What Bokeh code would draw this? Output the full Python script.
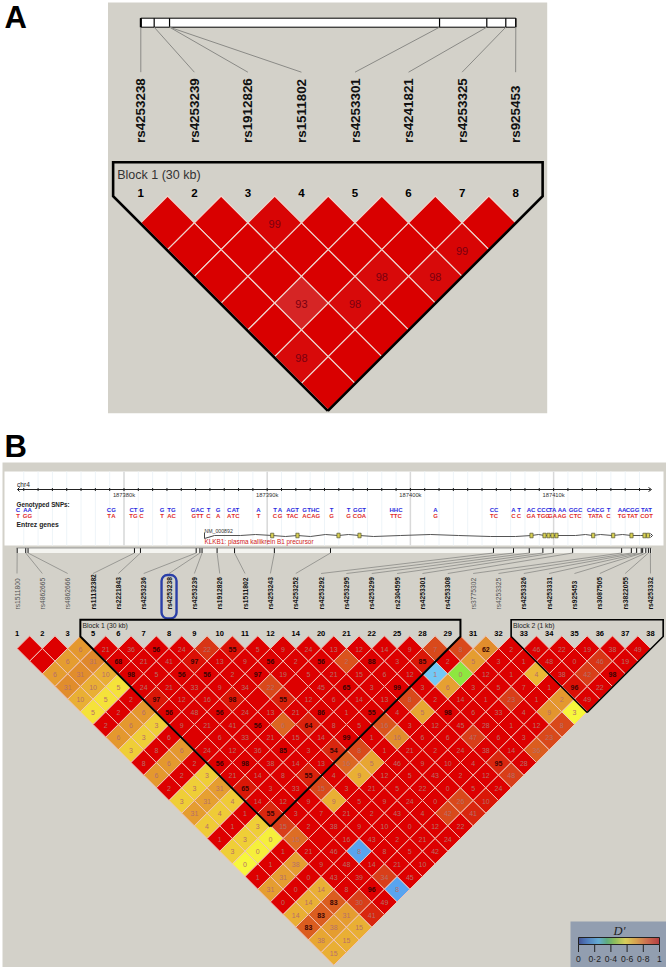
import math
import numpy as np
from bokeh.core.properties import value
from bokeh.embed import file_html
from bokeh.models import ColumnDataSource, LinearColorMapper
from bokeh.plotting import figure
from bokeh.resources import INLINE

# ---------- Panel A data ----------
a_names = ["rs4253238", "rs4253239", "rs1912826", "rs1511802", "rs4253301", "rs4241821", "rs4253325", "rs925453"]
a_kb = [0.0, 1.07, 2.3, 23.9, 27.68, 29.2, 30.0]
a_kb_map = [0.0, 1.07, 2.3, 2.3, 23.9, 27.68, 29.2, 30.0]
a_row_1 = [1, 1, 0.99, 1, 1, 1, 1]
a_row_2 = [1, 1, 1, 1, 1, 0.99]
a_row_3 = [1, 1, 1, 0.98, 0.98]
a_row_4 = [1, 0.93, 0.98, 1]
a_row_5 = [1, 1, 1]
a_row_6 = [0.98, 1]
a_row_7 = [1]

# ---------- Panel B data ----------
b_names = ["rs1511800", "rs4862665", "rs4862666", "rs11132382", "rs2221843", "rs4253236", "rs4253238",
           "rs4253239", "rs1912826", "rs1511802", "rs4253243", "rs4253252", "rs4253292", "rs4253295",
           "rs4253299", "rs2304595", "rs4253301", "rs4253308", "rs3775302", "rs4253325", "rs4253326",
           "rs4253331", "rs925453", "rs3087505", "rs3822055", "rs4253332"]
b_faint = ["rs1511800", "rs4862665", "rs4862666", "rs3775302", "rs4253325"]
b_numbers = ["1", "2", "3", "5", "6", "7", "8", "9", "10", "11", "12", "14", "20", "21", "22", "25", "28",
             "29", "31", "32", "33", "34", "35", "36", "37", "38"]
b_kb = [-7.46, -6.86, -6.7, 0.73, 1.15, 5.04, 5.3, 5.45, 6.5, 7.72, 10.5, 14.42, 25.8, 27.2, 28.3, 29.25,
        29.98, 31.33, 34.75, 35.43, 35.8, 36.12, 36.22, 36.44, 36.62, 36.76]

row_01 = ["", "", "6", "21", "36", "56", "24", "22", "55", "5", "9", "24", "13", "12", "14", "9", "7", "8", "62", "2", "46", "22", "19", "38", "49"]
row_02 = ["", "6", "31", "68", "21", "41", "97", "13", "9", "56", "2", "56", "2", "88", "3", "85", "2", "5", "3", "1", "48", "0", "46", "19"]
row_03 = ["6", "31", "10", "98", "5", "56", "56", "2", "97", "19", "5", "21", "15", "6", "12", "1", "0", "12", "1", "4", "38", "42", "98"]
row_04 = ["31", "10", "5", "24", "21", "33", "9", "34", "22", "", "45", "65", "3", "99", "3", "6", "3", "5", "7", "1", "96", "22"]
row_05 = ["10", "5", "2", "97", "12", "16", "98", "", "55", "12", "6", "14", "13", "8", "2", "14", "1", "23", "1", "2", "49"]
row_06 = ["5", "2", "6", "56", "48", "56", "24", "13", "21", "86", "1", "55", "4", "5", "98", "6", "33", "4", "9", "3"]
row_07 = ["2", "6", "3", "9", "21", "41", "56", "6", "64", "8", "5", "16", "3", "12", "45", "28", "1", "12", "8"]
row_08 = ["6", "3", "6", "", "6", "33", "21", "15", "14", "99", "1", "16", "6", "6", "47", "6", "3", "23"]
row_09 = ["3", "8", "6", "24", "12", "36", "85", "3", "54", "8", "1", "21", "2", "24", "38", "14", "36"]
row_10 = ["8", "6", "2", "56", "98", "38", "14", "13", "16", "5", "46", "9", "10", "4", "95", "28"]
row_11 = ["6", "2", "3", "21", "14", "8", "55", "4", "9", "12", "5", "43", "2", "12", "48"]
row_12 = ["2", "3", "31", "65", "3", "33", "15", "3", "21", "5", "22", "0", "5", "24"]
row_13 = ["3", "31", "4", "14", "12", "9", "9", "5", "9", "24", "0", "26", "10"]
row_14 = ["31", "4", "1", "55", "3", "7", "21", "2", "43", "4", "42", "41"]
row_15 = ["4", "1", "3", "15", "2", "38", "9", "10", "0", "12", "22"]
row_16 = ["1", "3", "0", "15", "", "16", "43", "2", "21", "24"]
row_17 = ["3", "0", "1", "21", "46", "8", "8", "5", "42"]
row_18 = ["0", "1", "38", "9", "48", "14", "21", "10"]
row_19 = ["1", "31", "0", "43", "39", "34", "45"]
row_20 = ["31", "0", "14", "8", "96", "8"]
row_21 = ["0", "14", "83", "30", "49"]
row_22 = ["14", "83", "31", "41"]
row_23 = ["83", "38", "15"]
row_24 = ["38", "15"]
row_25 = ["15"]

# D' of the cells that are not fully red: {position in row: D'}
dp_01 = {2: .77, 7: .93, 8: .98, 16: .9, 17: .9, 18: .8}
dp_02 = {1: .76, 2: .81, 6: .98, 12: .88, 15: .97, 17: .76, 22: .93}
dp_03 = {0: .76, 1: .8, 2: .72, 15: .2, 16: .42, 19: .7, 21: .92}
dp_04 = {0: .8, 1: .72, 2: .6, 8: .9, 15: .75, 20: .98}
dp_05 = {0: .72, 1: .6, 3: .97, 6: .97, 8: .96, 13: .9, 17: .92, 19: .77}
dp_06 = {0: .6, 2: .77, 13: .74, 18: .78, 19: .55}
dp_07 = {1: .77, 2: .65, 7: .85, 8: .96, 11: .88, 18: .9}
dp_08 = {0: .77, 1: .65, 11: .8, 14: .92, 17: .9}
dp_09 = {0: .65, 2: .77, 8: .95, 9: .9, 16: .86}
dp_10 = {1: .77, 8: .85, 9: .74, 14: .95}
dp_11 = {0: .77, 2: .65, 6: .96, 8: .72, 14: .92}
dp_12 = {1: .65, 2: .76, 3: .97, 6: .9}
dp_13 = {0: .65, 1: .75, 2: .66, 6: .72, 11: .9, 12: .97}
dp_14 = {0: .76, 1: .66, 3: .95, 10: .9, 11: .95}
dp_15 = {0: .66, 2: .65, 3: .92}
dp_16 = {1: .65, 2: .57, 3: .84}
dp_17 = {0: .65, 1: .57, 5: .13}
dp_18 = {0: .55, 2: .76}
dp_19 = {1: .76, 5: .92}
dp_20 = {0: .76, 2: .72, 5: .13}
dp_21 = {1: .72, 2: .86, 3: .92}
dp_22 = {0: .72, 1: .86, 2: .76, 3: .95}
dp_23 = {0: .86, 1: .76, 2: .72}
dp_24 = {0: .74, 1: .72}
dp_25 = {0: .72}

# browser track
major_kb = [187380, 187390, 187400, 187410]
snp_x = [17.5, 27, 108.5, 113, 133, 141, 161.7, 171, 197, 208, 217.7, 228.7, 235, 258, 274.5, 279.5, 292, 304, 313,
         331, 348, 359, 395.5, 435, 493.5, 513, 518.5, 530.5, 543, 552, 561.5, 575, 595, 608, 621.5, 632, 646]
snp_major = ["C", "AA", "C", "G", "CT", "G", "G", "TG", "GAC", "T", "G", "C", "AT", "A", "T", "A", "AGT", "G", "THC",
             "T", "T", "GGT", "HHC", "A", "CC", "A", "T", "AC", "CCC", "TA", "AA", "GGC", "CACG", "T", "AA", "CGG", "TAT"]
snp_minor = ["T", "GG", "T", "A", "TG", "C", "T", "AC", "GTT", "C", "A", "A", "TC", "T", "C", "G", "TAC", "A", "CAG",
             "G", "G", "COA", "TTC", "G", "TC", "C", "C", "GA", "TGG", "GA", "AG", "CTC", "TATA", "C", "TG", "TAT", "COT"]
gene_x = [214, 240, 255, 272, 285, 297, 310, 325, 338, 348, 359, 373, 400, 430, 458, 490, 515, 531, 538, 544, 556, 575,
          585, 592, 600, 612, 622, 631, 640, 650]
gene_y = [535, 535, 534, 535, 536, 535, 536, 534, 535, 534, 535, 536, 535, 534, 535, 536, 536, 535, 534, 535, 535, 535,
          534, 535, 534, 535, 534, 535, 535, 535]
exon_x = [271.7, 297, 338, 359, 531, 544, 548, 552, 556, 592.7, 612.7, 631, 644, 647.5]

legend_ticks = [0, 0.2, 0.4, 0.6, 0.8, 1]
legend_labels = ["0", "0·2", "0·4", "0·6", "0·8", "1"]

# ---------- colours ----------
GREY = "#d3d1c9"
SANS = value("Liberation Sans")


def ramp(stops, n=256):
    pos = [s[0] for s in stops]
    rgb = np.array([[int(s[1][i:i + 2], 16) for i in (1, 3, 5)] for s in stops], float)
    t = np.linspace(0, 1, n)
    chans = [np.interp(t, pos, rgb[:, c]) for c in range(3)]
    return ["#%02x%02x%02x" % (int(a), int(b), int(c)) for a, b, c in zip(*chans)]


cell_palette = ramp([(0, "#1f2f8f"), (.13, "#5aa5f0"), (.2, "#74c8f5"), (.42, "#8fe83f"), (.55, "#f8f83c"),
                     (.6, "#f5e23a"), (.65, "#f0cf38"), (.72, "#eab035"), (.77, "#e5992f"), (.81, "#e08a2c"),
                     (.86, "#dc5f20"), (.92, "#d9401a"), (.97, "#da1a08"), (1, "#dd0000")])
legend_palette = ramp([(0, "#2b3a8a"), (.1, "#3a70c0"), (.25, "#58b0e0"), (.35, "#4db070"), (.45, "#8cc840"),
                       (.58, "#f0e040"), (.72, "#eda030"), (.85, "#e06030"), (1, "#c02020")])
cell_mapper = LinearColorMapper(palette=cell_palette, low=0, high=1)
legend_mapper = LinearColorMapper(palette=legend_palette, low=0, high=1)
a_mapper = LinearColorMapper(palette=ramp([(0, "#d45050"), (1, "#d90000")]), low=0.85, high=1)

p = figure(width=666, height=967, x_range=(0, 666), y_range=(967, 0), output_backend="svg",
           toolbar_location=None, min_border=0, outline_line_color=None, background_fill_color="white",
           border_fill_color="white")
p.axis.visible = False
p.grid.visible = False
p.styles = {"position": "absolute", "left": "0px", "top": "0px"}


def texts(x, y, t, size, color="#000000", bold=False, angle=0, align="center", baseline="middle", italic=False):
    src = ColumnDataSource(dict(x=list(x), y=list(y), t=list(t)))
    style = "bold" if bold else ("italic" if italic else "normal")
    p.text("x", "y", text="t", source=src, text_font=SANS, text_font_size=f"{size}px", text_color=color,
           text_font_style=style, angle=angle, text_align=align, text_baseline=baseline)


# panel letters and backgrounds
p.quad(left=[107.5, 2], right=[546.7, 666], top=[2, 462], bottom=[412.7, 967], fill_color=GREY, line_color=None)
texts([4], [17], ["A"], 31, bold=True, align="left")
texts([4], [446], ["B"], 31, bold=True, align="left")

# ---------- Panel A ----------
A_X0, A_STEP = 140.3, 53.55
A_PX_PER_KB = 12.5
a_x = [A_X0 + i * A_STEP for i in range(8)]
p.quad(left=[A_X0], right=[A_X0 + 30 * A_PX_PER_KB], top=[17.7], bottom=[26.7], fill_color="white", line_color="black",
       line_width=1)
bar_x = [A_X0 + k * A_PX_PER_KB for k in a_kb]
p.segment(bar_x, [17.7] * 7, bar_x, [26.7] * 7, line_color="black", line_width=1.2)
p.segment([A_X0], [17.7], [A_X0], [26.7], line_color="black", line_width=2)
p.segment([A_X0 + k * A_PX_PER_KB for k in a_kb_map], [26.7] * 8, a_x, [71.7] * 8, line_color="#8a8a86", line_width=1)
texts(a_x, [142.5] * 8, a_names, 13.4, color="#111111", bold=True, angle=math.pi / 2, align="left")
texts(a_x, [192.3] * 8, [str(i + 1) for i in range(8)], 11.5, bold=True)
texts([116.7], [174], ["Block 1 (30 kb)"], 12.5, color="#333333", align="left")

a_rows = [a_row_1, a_row_2, a_row_3, a_row_4, a_row_5, a_row_6, a_row_7]
h = A_STEP / 2
xs, ys, dv, tx, ty, tl = [], [], [], [], [], []
for r, row in enumerate(a_rows, start=1):
    for k, d in enumerate(row):
        cx = A_X0 + (r + 2 * k) * h
        cy = 222.3 + (r - 1) * h
        xs.append([cx - h, cx, cx + h, cx])
        ys.append([cy, cy - h, cy, cy + h])
        dv.append(d)
        if d < 1:
            tx.append(cx)
            ty.append(cy + 1)
            tl.append(str(int(round(d * 100))))
p.patches("xs", "ys", source=ColumnDataSource(dict(xs=xs, ys=ys, d=dv)),
          fill_color={"field": "d", "transform": a_mapper}, line_color="#efd6cf", line_width=1.2)
texts(tx, ty, tl, 11, color="#7a0010")
aL, aR, aT, aS = A_X0 - h - 0.9, A_X0 + 7 * A_STEP + h + 0.2, 161.7, 195.7
aApex = 0.5 * (aL + aR)
p.line([aApex, aL, aL, aR, aR, aApex], [aS + (aApex - aL) * 1.0, aS, aT, aT, aS, aS + (aR - aApex)],
       line_color="black", line_width=2.6, line_join="miter")

# ---------- Panel B: browser strip ----------
p.quad(left=[4], right=[663], top=[471], bottom=[545], fill_color="white", line_color=None)
B_X0, B_PX_PER_KB, B_ORIGIN = 123.5, 14.32, 187380
kb2x = lambda kb: B_X0 + (kb - B_ORIGIN) * B_PX_PER_KB
minor = np.arange(187373, 187417)
mx = [kb2x(k) for k in minor]
p.segment(mx, [471] * len(mx), mx, [545] * len(mx), line_color="#eef4f8", line_width=1)
jx = [kb2x(k) for k in major_kb]
p.segment(jx, [471] * 4, jx, [545] * 4, line_color="#d9d9d9", line_width=1.5)
p.line([17, 650], [489, 489], line_color="#222222", line_width=1)
p.segment(mx, [487.5] * len(mx), mx, [490.5] * len(mx), line_color="#222222", line_width=1)
p.line([19, 17, 19], [487, 489, 491], line_color="#222222", line_width=1)
p.line([648, 651, 648], [487, 489, 491], line_color="#222222", line_width=1)
texts([16.5], [483.5], ["chr4"], 6.6, color="#222222", align="left")
texts(jx, [494.5] * 4, [f"{k}k" for k in major_kb], 5.8, color="#333333")
texts([16], [504], ["Genotyped SNPs:"], 6.3, color="#222222", bold=True, align="left")
texts([16], [524], ["Entrez genes"], 6.8, color="#222222", bold=True, align="left")
texts(snp_x, [509.5] * len(snp_x), snp_major, 6, color="#2a2ae0", bold=True)
texts(snp_x, [515] * len(snp_x), snp_minor, 6, color="#e02a2a", bold=True)
p.line(gene_x, gene_y, line_color="#555555", line_width=1)
p.line([204, 204, 214], [532, 538, 535], line_color="#444444", line_width=1)
p.line([650, 652, 650], [533, 535, 537], line_color="#333333", line_width=1)
p.quad(left=[x - 1.6 for x in exon_x], right=[x + 1.6 for x in exon_x], top=[532.7] * len(exon_x),
       bottom=[537.3] * len(exon_x), fill_color="#d8d050", line_color="#555533", line_width=0.7)
texts([204], [530], ["NM_000892"], 5.2, color="#333333", align="left")
texts([204], [540.5], ["KLKB1: plasma kallikrein B1 precursor"], 6.4, color="#d02020", align="left")

# marker strip
b_pos = [kb2x(B_ORIGIN + k) for k in b_kb]
p.quad(left=[16], right=[651], top=[547.5], bottom=[552.5], fill_color="#f4f4f0", line_color=None)
p.segment(b_pos, [547.5] * 26, b_pos, [552.5] * 26, line_color="#111111", line_width=1)
p.line([16, 651], [547.5, 547.5], line_color="#777777", line_width=0.7)

B_STEP = 25.34
b_x = [16.5 + i * B_STEP for i in range(26)]
p.segment(b_pos, [552.5] * 26, b_x, [573] * 26, line_color="#8a8a86", line_width=0.8)
weights = [n in b_faint for n in b_names]
texts([x for x, w in zip(b_x, weights) if w], [609] * sum(weights),
      [n for n, w in zip(b_names, weights) if w], 6.7, color="#555555", angle=math.pi / 2, align="left")
texts([x for x, w in zip(b_x, weights) if not w], [609] * (26 - sum(weights)),
      [n for n, w in zip(b_names, weights) if not w], 6.7, color="#111111", bold=True, angle=math.pi / 2, align="left")
sel = b_x[b_names.index("rs4253238")]
p.quad(left=[sel - 7.5], right=[sel + 7.5], top=[574.5], bottom=[618], fill_alpha=0, line_color="#2a3fa8",
       line_width=2.4, border_radius=6)

# ---------- Panel B: LD triangle ----------
rows = [row_01, row_02, row_03, row_04, row_05, row_06, row_07, row_08, row_09, row_10, row_11, row_12, row_13,
        row_14, row_15, row_16, row_17, row_18, row_19, row_20, row_21, row_22, row_23, row_24, row_25]
dps = [dp_01, dp_02, dp_03, dp_04, dp_05, dp_06, dp_07, dp_08, dp_09, dp_10, dp_11, dp_12, dp_13, dp_14, dp_15,
       dp_16, dp_17, dp_18, dp_19, dp_20, dp_21, dp_22, dp_23, dp_24, dp_25]
h = B_STEP / 2
xs, ys, dv = [], [], []
lo_x, lo_y, lo_t, hi_x, hi_y, hi_t = [], [], [], [], [], []
for r, (row, dp) in enumerate(zip(rows, dps), start=1):
    for k, lab in enumerate(row):
        cx = b_x[0] + (r + 2 * k) * h
        cy = 648 + (r - 1) * h
        xs.append([cx - h, cx, cx + h, cx])
        ys.append([cy, cy - h, cy, cy + h])
        dv.append(dp.get(k, 1.0))
        if lab:
            if int(lab) >= 50:
                hi_x.append(cx); hi_y.append(cy + 0.5); hi_t.append(lab)
            else:
                lo_x.append(cx); lo_y.append(cy + 0.5); lo_t.append(lab)
p.patches("xs", "ys", source=ColumnDataSource(dict(xs=xs, ys=ys, d=dv)),
          fill_color={"field": "d", "transform": cell_mapper}, line_color="#f0c4ba", line_width=1)
texts(lo_x, lo_y, lo_t, 7, color="#b5706a")
texts(hi_x, hi_y, hi_t, 7, color="#3a0505", bold=True)
texts(b_x, [633.3] * 26, b_numbers, 7.5, bold=True)


def block(first, last, lw):
    l, rr = b_x[first] - h, b_x[last] + h
    a = 0.5 * (l + rr)
    s = 636.0
    p.line([a, l, l, rr, rr, a], [s + a - l, s, 619.3, 619.3, s, s + rr - a], line_color="black", line_width=lw,
           line_join="miter")


block(3, 17, 2)
block(20, 25, 1.6)
texts([82], [625.3], ["Block 1 (30 kb)"], 6.8, color="#222222", align="left")
texts([512.5], [625.3], ["Block 2 (1 kb)"], 6.8, color="#222222", align="left")

# ---------- legend ----------
LEG_X0, LEG_W = 578, 81
p.quad(left=[570], right=[666], top=[921], bottom=[967], fill_color="#929eb0", line_color=None)
steps = np.linspace(0, 1, 82)
leg_src = ColumnDataSource(dict(l=LEG_X0 + steps[:-1] * LEG_W, r=LEG_X0 + steps[1:] * LEG_W,
                                t=[937] * 81, b=[944] * 81, d=steps[:-1] + 0.5 / 81))
p.quad(left="l", right="r", top="t", bottom="b", source=leg_src,
       fill_color={"field": "d", "transform": legend_mapper}, line_color=None)
p.quad(left=[LEG_X0], right=[LEG_X0 + LEG_W], top=[937], bottom=[944], fill_alpha=0, line_color="#222222", line_width=1)
leg_x = [LEG_X0 + t * LEG_W for t in legend_ticks]
p.segment(leg_x, [944] * 6, leg_x, [951.5] * 6, line_color="#222222", line_width=1)
texts(leg_x, [958.5] * 6, legend_labels, 8.6, color="#222222")
p.text([619], [930.5], text=["D′"], text_font=value("Liberation Serif"), text_font_size="12.5px",
       text_font_style="italic", text_color="#222222", text_align="center", text_baseline="middle")

open("out.html", "w").write(file_html(p, INLINE))
